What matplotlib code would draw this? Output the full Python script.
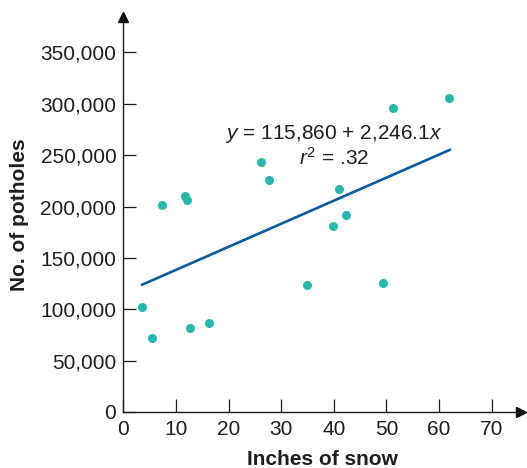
import numpy as np
import matplotlib
matplotlib.use("Agg")
import matplotlib.pyplot as plt

plt.rcParams['font.family'] = ['Liberation Sans', 'DejaVu Sans']
plt.rcParams['mathtext.fontset'] = 'custom'
plt.rcParams['mathtext.rm'] = 'Liberation Sans'
plt.rcParams['mathtext.it'] = 'Liberation Sans:italic'

# inches of snow vs number of potholes
snow = [3.5, 5.5, 7.3, 11.8, 12.1, 12.7, 16.3, 26.1, 27.7, 34.9,
        39.9, 41.0, 42.4, 49.3, 51.2, 61.8]
potholes = [102000, 72500, 201700, 210400, 206800, 81300, 86700, 243000,
            225500, 123600, 181300, 217500, 191900, 125500, 296400, 306100]

# regression line
intercept = 115860
slope = 2246.1
fit_x = [3.6, 62.0]

x_ticks = [0, 10, 20, 30, 40, 50, 60, 70]
y_ticks = [0, 50000, 100000, 150000, 200000, 250000, 300000, 350000]

dot_color = '#27b8aa'
line_color = '#0b5a9e'
ink = '#1e1e1e'

fig = plt.figure(figsize=(5.27, 4.68), dpi=100)
ax = fig.add_axes([0.234, 0.1197, 0.754, 0.845])

fx = np.array(fit_x)
ax.plot(fx, intercept + slope * fx, color=line_color, lw=1.9, zorder=2)
ax.plot(snow, potholes, 'o', color=dot_color, markersize=6.5, mec='none', zorder=3)

ax.set_xlim(0, 75.5)
ax.set_ylim(0, 385000)
ax.set_xticks(x_ticks)
ax.set_yticks(y_ticks)
ax.set_yticklabels([f'{v:,}' for v in y_ticks])

for side in ['top', 'right']:
    ax.spines[side].set_visible(False)
for side in ['left', 'bottom']:
    ax.spines[side].set_linewidth(1.0)
    ax.spines[side].set_color(ink)

ax.tick_params(direction='in', length=9.5, width=0.9, color=ink,
               labelsize=15, labelcolor=ink)
ax.tick_params(axis='y', pad=5)
ax.tick_params(axis='x', pad=6)

# arrow heads on the axes
ax.plot(1, 0, '>', color='#111111', markersize=7, transform=ax.transAxes, clip_on=False)
ax.plot(0, 1, '^', color='#111111', markersize=7, transform=ax.transAxes, clip_on=False)

ax.set_xlabel('Inches of snow', fontsize=15, fontweight='bold', color=ink, labelpad=8)
ax.set_ylabel('No. of potholes', fontsize=15, fontweight='bold', color=ink, labelpad=8)

ax.text(40, 271000, '$y$ = 115,860 + 2,246.1$x$', fontsize=15, color=ink,
        ha='center', va='center')
ax.text(40, 247500, '$r^2$ = .32', fontsize=15, color=ink,
        ha='center', va='center')

fig.savefig('out.png', dpi=100)
